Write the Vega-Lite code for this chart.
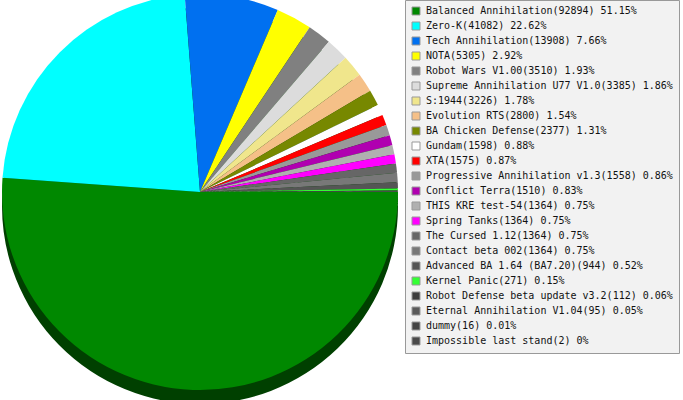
{
  "$schema": "https://vega.github.io/schema/vega-lite/v6.json",
  "width": 400,
  "height": 384,
  "autosize": "none",
  "padding": {"left": 0, "top": 0, "right": 283, "bottom": 16},
  "background": "white",
  "config": {"view": {"stroke": null}},
  "data": {"values": [
    {"idx": 1, "label": "Balanced Annihilation(92894) 51.15%", "count": 92894},
    {"idx": 2, "label": "Zero-K(41082) 22.62%", "count": 41082},
    {"idx": 3, "label": "Tech Annihilation(13908) 7.66%", "count": 13908},
    {"idx": 4, "label": "NOTA(5305) 2.92%", "count": 5305},
    {"idx": 5, "label": "Robot Wars V1.00(3510) 1.93%", "count": 3510},
    {"idx": 6, "label": "Supreme Annihilation U77 V1.0(3385) 1.86%", "count": 3385},
    {"idx": 7, "label": "S:1944(3226) 1.78%", "count": 3226},
    {"idx": 8, "label": "Evolution RTS(2800) 1.54%", "count": 2800},
    {"idx": 9, "label": "BA Chicken Defense(2377) 1.31%", "count": 2377},
    {"idx": 10, "label": "Gundam(1598) 0.88%", "count": 1598},
    {"idx": 11, "label": "XTA(1575) 0.87%", "count": 1575},
    {"idx": 12, "label": "Progressive Annihilation v1.3(1558) 0.86%", "count": 1558},
    {"idx": 13, "label": "Conflict Terra(1510) 0.83%", "count": 1510},
    {"idx": 14, "label": "THIS KRE test-54(1364) 0.75%", "count": 1364},
    {"idx": 15, "label": "Spring Tanks(1364) 0.75%", "count": 1364},
    {"idx": 16, "label": "The Cursed 1.12(1364) 0.75%", "count": 1364},
    {"idx": 17, "label": "Contact beta 002(1364) 0.75%", "count": 1364},
    {"idx": 18, "label": "Advanced BA 1.64 (BA7.20)(944) 0.52%", "count": 944},
    {"idx": 19, "label": "Kernel Panic(271) 0.15%", "count": 271},
    {"idx": 20, "label": "Robot Defense beta update v3.2(112) 0.06%", "count": 112},
    {"idx": 21, "label": "Eternal Annihilation V1.04(95) 0.05%", "count": 95},
    {"idx": 22, "label": "dummy(16) 0.01%", "count": 16},
    {"idx": 23, "label": "Impossible last stand(2) 0%", "count": 2}
  ]},
  "layer": [
    {
      "mark": {"type": "arc", "radius": 198, "yOffset": 14, "fill": "#004000", "stroke": null},
      "encoding": {
        "theta": {"field": "count", "type": "quantitative", "stack": true, "scale": {"range": [1.5708, 7.854]}},
        "order": {"field": "idx", "type": "quantitative"}
      }
    },
    {
      "mark": {"type": "arc", "radius": 198, "stroke": null},
      "encoding": {
        "theta": {"field": "count", "type": "quantitative", "stack": true, "scale": {"range": [1.5708, 7.854]}},
        "order": {"field": "idx", "type": "quantitative"},
        "color": {
          "field": "label",
          "type": "nominal",
          "sort": null,
          "scale": {"range": ["#008800", "#00ffff", "#0070f0", "#ffff00", "#808080", "#dcdcdc", "#f0e68c", "#f5c088", "#778800", "#ffffff", "#ff0000", "#999999", "#b000b0", "#b0b0b0", "#ff00ff", "#666666", "#787878", "#555555", "#33ff33", "#3d3d3d", "#5a5a5a", "#444444", "#4a4a4a"]},
          "legend": {
            "title": null,
            "orient": "right",
            "offset": 5,
            "padding": 6,
            "fillColor": "#f2f2f2",
            "strokeColor": "#999999",
            "symbolType": "square",
            "symbolSize": 64,
            "symbolStrokeColor": "#999999",
            "symbolStrokeWidth": 1,
            "symbolOpacity": 1,
            "labelFont": "DejaVu Sans Mono",
            "labelFontSize": 10,
            "labelColor": "#111111",
            "labelOffset": 5,
            "labelLimit": 400,
            "rowPadding": 3
          }
        }
      }
    }
  ]
}
